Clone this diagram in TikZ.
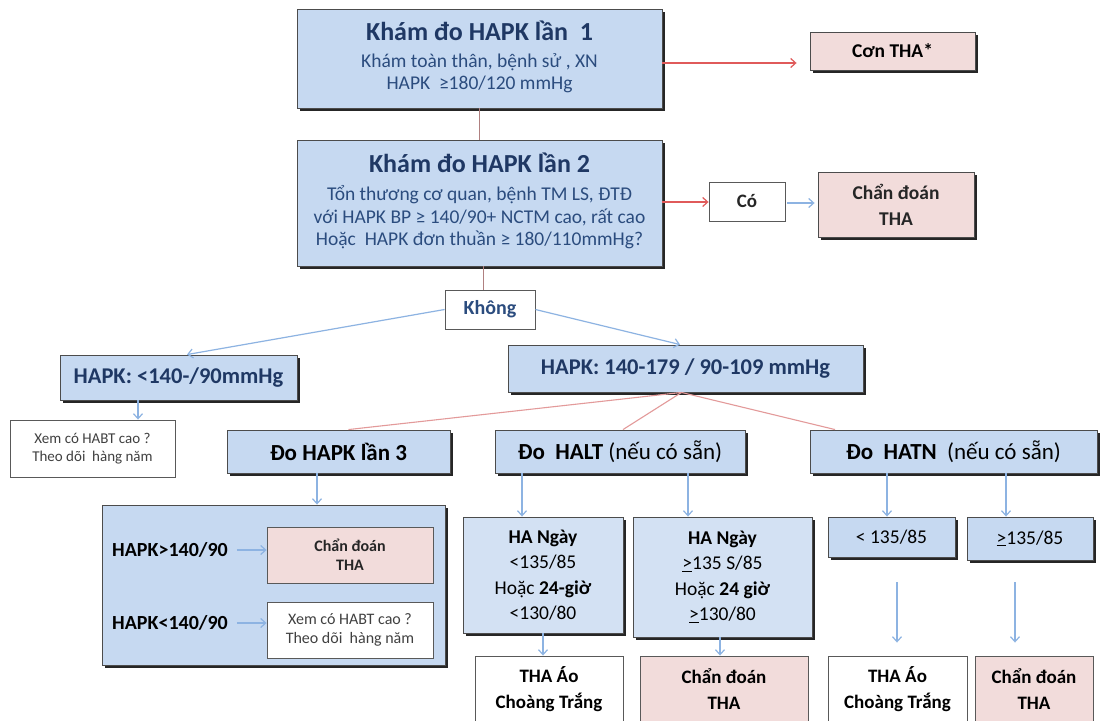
\documentclass[tikz,border=0pt]{standalone}
\usepackage{fontspec}
\setmainfont{Carlito}
\usetikzlibrary{arrows.meta,shadows}
\definecolor{boxblue}{HTML}{C6D9F1}
\definecolor{boxblueL}{HTML}{D3E1F3}
\definecolor{boxpink}{HTML}{F2DCDB}
\definecolor{navy}{HTML}{1F3864}
\definecolor{navyS}{HTML}{2B4C7E}
\definecolor{arrblue}{HTML}{8DB3E2}
\definecolor{arrred}{HTML}{E05A5A}
\definecolor{linered}{HTML}{E39A9A}
\definecolor{linebrown}{HTML}{B08080}
\newcommand{\fs}[1]{\fontsize{#1}{\fpeval{1.2*#1}}\selectfont}
\newcommand{\fsl}[2]{\fontsize{#1}{#2}\selectfont}
\tikzset{
  base/.style={draw=black!70, line width=0.9pt, align=center, inner sep=2pt,
     drop shadow={shadow xshift=2.5pt, shadow yshift=-2.5pt, fill=black!85, opacity=1}},
  bluebox/.style={base, fill=boxblue},
  blueboxL/.style={base, fill=boxblueL},
  pinkbox/.style={base, fill=boxpink},
  pinkflat/.style={draw=black!65, line width=0.9pt, fill=boxpink, align=center, inner sep=2pt},
  whitebox/.style={draw=black!65, line width=0.9pt, fill=white, align=center, inner sep=2pt},
  textonly/.style={align=center, inner sep=1pt},
  barrow/.style={draw=arrblue, line width=1.2pt, -{Straight Barb[length=5pt,width=9pt]}},
  rarrow/.style={draw=arrred, line width=1.2pt, -{Straight Barb[length=5pt,width=9pt]}},
  rline/.style={draw=linered, line width=1.1pt},
  bline/.style={draw=linebrown, line width=1pt},
  wh/.style 2 args={minimum width=#1, minimum height=#2}
}
\begin{document}
\begin{tikzpicture}[x=1pt,y=-1pt]
\useasboundingbox[fill=white] (0,0) rectangle (1100,720);

% top boxes
\node[bluebox, wh={365pt}{99pt}] (b1) at (479.5,58.5) {};
\node[textonly, font={\fsl{19.5}{22}\color{navyS}}] (b1t) at (479.5,57)
  {{\fs{26}\bfseries\color{navy}Khám đo HAPK lần~~1}\\[5pt]
   Khám toàn thân, bệnh sử , XN\\
   HAPK~~≥180/120 mmHg};
\node[pinkbox, wh={165pt}{38pt}, font={\fs{19.5}\bfseries}] (con) at (892.5,51) {Cơn THA*};

\node[bluebox, wh={365pt}{126pt}] (b2) at (479.5,203) {};
\node[textonly, font={\fsl{19.5}{22.5}\color{navyS}}] (b2t) at (479.5,201)
  {{\fs{26}\bfseries\color{navy}Khám đo HAPK lần 2}\\[5.5pt]
   Tổn thương cơ quan, bệnh TM LS, ĐTĐ\\
   với HAPK BP ≥ 140/90+ NCTM cao, rất cao\\
   Hoặc~~HAPK đơn thuần ≥ 180/110mmHg?};
\node[whitebox, wh={76pt}{39pt}, font={\fs{19}\bfseries\color{black!85}}] (co) at (747,201.5) {Có};
\node[pinkbox, wh={156pt}{65pt}, font={\fsl{19.5}{26}\bfseries\color{black!85}}] (cd1) at (896,204.5) {Chẩn đoán\\ THA};

\node[whitebox, wh={90pt}{39pt}, font={\fs{20}\bfseries\color{navyS}}] (kh) at (490,309.5) {Không};

\node[bluebox, wh={237pt}{45pt}, font={\fs{22.5}\bfseries\color{navy}}] (hl) at (178.5,377.5) {HAPK: <140-/90mmHg};
\node[bluebox, wh={355pt}{47pt}, font={\fs{22.5}\bfseries\color{navy}}] (hm) at (685.5,368.5) {HAPK: 140-179 / 90-109 mmHg};

\node[whitebox, wh={165pt}{57pt}, font={\fs{15}\color{black!75}}] (xem1) at (92.5,448.5) {Xem có HABT cao ?\\ Theo dõi~ hàng năm};

\node[bluebox, wh={223pt}{43pt}, font={\fs{23}\bfseries}] (d3) at (338.5,451.5) {Đo HAPK lần 3};
\node[bluebox, wh={250pt}{43pt}, font={\fs{23}}] (halt) at (620,451.5) {\textbf{Đo~ HALT} (nếu có sẵn)};
\node[bluebox, wh={287pt}{43pt}, font={\fs{23}}] (hatn) at (953.5,451.5) {\textbf{Đo~ HATN}~ (nếu có sẵn)};

% big box with inner content
\node[bluebox, wh={343pt}{160pt}] (big) at (273.5,585) {};
\node[pinkflat, wh={166pt}{56pt}, font={\fs{16}\bfseries\color{black!85}}] (cd2) at (350,555) {Chẩn đoán\\ THA};
\node[whitebox, wh={166pt}{56pt}, font={\fs{16}\color{black!75}}] (xem2) at (350,630) {Xem có HABT cao ?\\ Theo dõi~ hàng năm};
\node[textonly, font={\fs{20}\bfseries}] (gt) at (170,550) {HAPK>140/90};
\node[textonly, font={\fs{20}\bfseries}] (lt) at (170,623) {HAPK<140/90};

% HALT branch
\node[blueboxL, wh={160pt}{116pt}, font={\fsl{19.5}{25.5}}] (hal) at (543,575)
  {\textbf{HA Ngày}\\ <135/85\\ Hoặc \textbf{24-giờ}\\ <130/80};
\node[blueboxL, wh={179pt}{120pt}, font={\fsl{19.5}{25.5}}] (har) at (722.5,577)
  {\textbf{HA Ngày}\\ \underline{>}135 S/85\\ Hoặc \textbf{24 giờ}\\ \underline{>}130/80};
\node[whitebox, wh={148pt}{67pt}, font={\fsl{19}{26}\bfseries}] (aol) at (549,689.5) {THA Áo\\ Choàng Trắng};
\node[pinkflat, wh={168pt}{67pt}, font={\fsl{19}{26}\bfseries}] (cdl) at (724,689.5) {Chẩn đoán\\ THA};

% HATN branch
\node[bluebox, wh={127pt}{40pt}, font={\fs{19.5}}] (lt135) at (891.5,537) {< 135/85};
\node[bluebox, wh={126pt}{43pt}, font={\fs{19.5}}] (ge135) at (1030,538.5) {\underline{>}135/85};
\node[whitebox, wh={139pt}{67pt}, font={\fsl{19}{26}\bfseries}] (aor) at (897.5,689.5) {THA Áo\\ Choàng Trắng};
\node[pinkflat, wh={118pt}{67pt}, font={\fsl{19}{26}\bfseries}] (cdr) at (1034,689.5) {Chẩn đoán\\ THA};

% connectors
\draw[rarrow] ([yshift=-4.5pt]b1.east) -- ([xshift=-13pt,yshift=-12pt]con.west);
\draw[bline] (b1.south) -- (b2.north);
\draw[rarrow] ([yshift=1pt]b2.east) -- ([yshift=-0.5pt]co.west);
\draw[barrow] ([xshift=2pt,yshift=-1.5pt]co.east) -- ([xshift=-3pt,yshift=1.5pt]cd1.west);
\draw[bline] ([xshift=3.5pt]b2.south) -- ([xshift=-7pt]kh.north);
\draw[barrow] (kh.west) -- ([xshift=8.5pt]hl.north);
\draw[barrow] (kh.east) -- ([xshift=-5.5pt]hm.north);
\draw[barrow] ([xshift=-40.5pt]hl.south) -- ([xshift=45.5pt]xem1.north);

\coordinate (hmb) at ([xshift=-4pt]hm.south);
\draw[rline] (hmb) -- ([xshift=10pt]d3.north);
\draw[rline] (hmb) -- ([xshift=3pt]halt.north);
\draw[rline] (hmb) -- ([xshift=-118.5pt]hatn.north);

\draw[barrow] ([xshift=-21.5pt]d3.south) -- ([xshift=43.5pt]big.north);
\draw[barrow] ([xshift=8pt]gt.east) -- (cd2.west |- gt.east);
\draw[barrow] ([xshift=8pt]lt.east) -- (xem2.west |- lt.east);

\draw[barrow] ([xshift=-98pt]halt.south) -- ([xshift=-21pt]hal.north);
\draw[barrow] ([xshift=68pt]halt.south) -- ([xshift=-34.5pt]har.north);
\draw[barrow] (hal.south) -- ([xshift=-6pt]aol.north);
\draw[barrow] ([xshift=-2.5pt]har.south) -- ([xshift=-4pt]cdl.north);

\draw[barrow] ([xshift=-66.5pt]hatn.south) -- ([xshift=-4.5pt]lt135.north);
\draw[barrow] ([xshift=52.5pt]hatn.south) -- ([xshift=-24pt]ge135.north);
\draw[barrow] ([xshift=5.5pt,yshift=-25pt]lt135.south) -- ([xshift=-0.5pt,yshift=13pt]aor.north);
\draw[barrow] ([xshift=-15pt,yshift=-22pt]ge135.south) -- ([xshift=-19pt,yshift=13pt]cdr.north);
\end{tikzpicture}
\end{document}
